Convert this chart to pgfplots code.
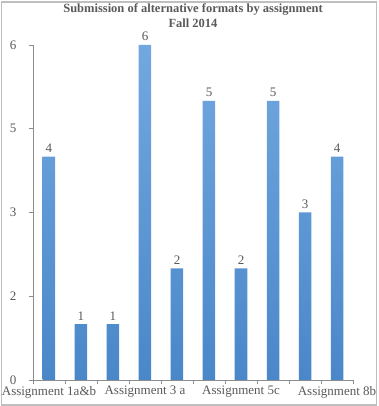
\documentclass[border=0pt]{standalone}
\usepackage{fontspec}
\setmainfont{Liberation Serif}
\usepackage{pgfplots}
\pgfplotsset{compat=1.18}
\definecolor{txt}{HTML}{595959}
\definecolor{axisgray}{HTML}{8C8C8C}
\definecolor{bordergray}{HTML}{BFBFBF}
\definecolor{bartop}{HTML}{72A8DF}
\definecolor{barbot}{HTML}{4A87C9}
\begin{document}
\begin{tikzpicture}
\useasboundingbox (-33bp,-26bp) rectangle (346bp,380bp);
\draw[bordergray, line width=1.2bp] (-31.5bp,-25bp) rectangle (343.5bp,378bp);
\begin{axis}[
  scale only axis,
  width=320bp, height=335bp,
  xmin=-0.5, xmax=9.5, ymin=0, ymax=6,
  axis lines=left,
  axis line style={draw=axisgray, line width=0.8bp, -},
  tick style={draw=axisgray, line width=0.8bp},
  tick align=outside,
  ytick={0,1.5,3,4.5,6},
  yticklabels={0,2,3,5,6},
  major tick length=4bp,
  xtick={-0.5,0.5,...,9.5},
  xticklabels={Assignment 1a\&b,,,Assignment 3 a,,,Assignment 5c,,,Assignment 8b,},
  ticklabel style={font=\fontsize{13bp}{15bp}\selectfont, text=txt},
  yticklabel style={xshift=-9bp},
  xticklabel style={xshift=16bp, yshift=1.5bp},
  /pgf/number format/assume math mode=true,
  title={Submission of alternative formats by assignment\\Fall 2014},
  title style={font=\bfseries\fontsize{12.5bp}{14.5bp}\selectfont, text=txt, align=center, at={(0.5,1)}, anchor=south, yshift=8bp},
  ybar, bar width=12.5bp,
  nodes near coords,
  every node near coord/.append style={font=\fontsize{13bp}{15bp}\selectfont, text=txt, yshift=0.5bp},
]
\addplot[draw=none, top color=bartop, bottom color=barbot] coordinates {
(0,4) (1,1) (2,1) (3,6) (4,2) (5,5) (6,2) (7,5) (8,3) (9,4)};
\end{axis}
\end{tikzpicture}
\end{document}
